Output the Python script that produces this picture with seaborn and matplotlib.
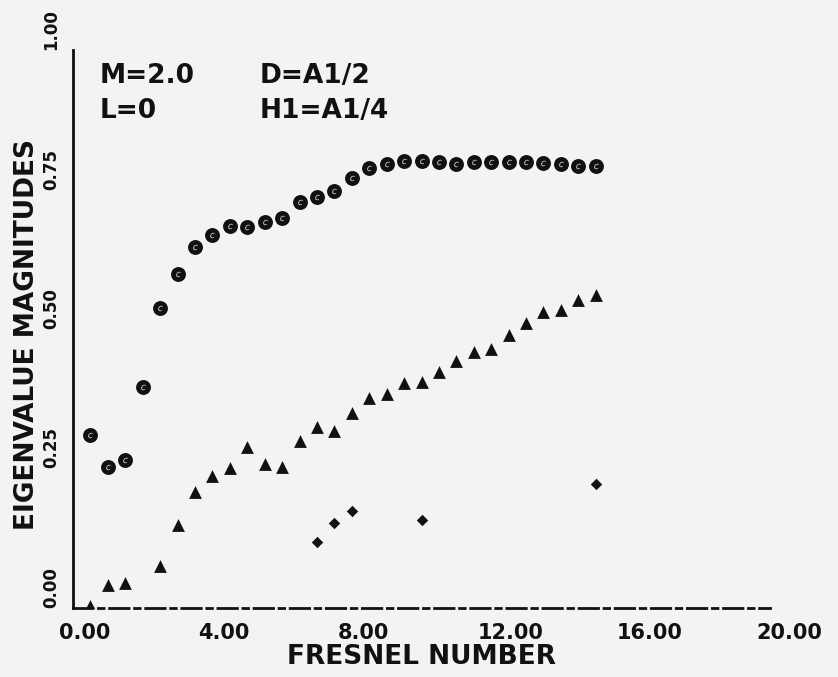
import matplotlib
matplotlib.use("Agg")
import matplotlib.pyplot as plt
import matplotlib.transforms as mtransforms
import numpy as np
import pandas as pd
import seaborn as sns

# Fresnel numbers at which the eigenvalues were computed
fresnel = [0.5, 1.0, 1.5, 2.0, 2.5, 3.0, 3.5, 4.0, 4.5, 5.0,
           5.5, 6.0, 6.5, 7.0, 7.5, 8.0, 8.5, 9.0, 9.5, 10.0,
           10.5, 11.0, 11.5, 12.0, 12.5, 13.0, 13.5, 14.0, 14.5, 15.0]

# lowest-loss mode (circles)
mode_1 = [0.310, 0.253, 0.265, 0.396, 0.538, 0.599, 0.647, 0.668, 0.685, 0.683,
          0.692, 0.699, 0.728, 0.737, 0.747, 0.771, 0.789, 0.796, 0.801, 0.801,
          0.799, 0.796, 0.799, 0.799, 0.799, 0.799, 0.797, 0.796, 0.792, 0.792]

# second mode (triangles); no value plotted at N = 2.0
mode_2 = [0.004, 0.041, 0.045, np.nan, 0.075, 0.149, 0.208, 0.237, 0.251, 0.289,
          0.258, 0.253, 0.299, 0.324, 0.317, 0.349, 0.376, 0.384, 0.403, 0.405,
          0.423, 0.443, 0.459, 0.464, 0.489, 0.511, 0.530, 0.534, 0.552, 0.561]

# third mode (diamonds), only found at a few Fresnel numbers
mode_3_fresnel = [7.0, 7.5, 8.0, 10.0, 15.0]
mode_3 = [0.118, 0.152, 0.174, 0.158, 0.222]

x_ticks = [0, 4, 8, 12, 16, 20]
x_tick_labels = ["0.00", "4.00", "8.00", "12.00", "16.00", "20.00"]
y_ticks = [0.0, 0.25, 0.50, 0.75, 1.00]
y_tick_labels = ["0.00", "0.25", "0.50", "0.75", "1.00"]

sns.set_theme(style="white")
plt.rcParams["font.family"] = ["DejaVu Sans"]

paper = "#f3f3f1"
ink = "#111111"

W, H = 838, 677
fig = plt.figure(figsize=(W / 100, H / 100), dpi=100, facecolor=paper)
ax = fig.add_axes([73 / W, 1 - 608 / H, (770 - 73) / W, (608 - 50) / H])
ax.set_facecolor(paper)

df1 = pd.DataFrame({"fresnel": fresnel, "magnitude": mode_1})
df2 = pd.DataFrame({"fresnel": fresnel, "magnitude": mode_2}).dropna()
df3 = pd.DataFrame({"fresnel": mode_3_fresnel, "magnitude": mode_3})

sns.scatterplot(data=df1, x="fresnel", y="magnitude", marker="o", s=115,
                color=ink, linewidth=0, ax=ax, zorder=3)
# pen-plotter circle symbol leaves a small light hook inside each dot
sns.scatterplot(data=df1, x="fresnel", y="magnitude", marker="$c$", s=15,
                color="#d8d8d6", linewidth=0, ax=ax, zorder=4)
sns.scatterplot(data=df2, x="fresnel", y="magnitude", marker="^", s=85,
                color=ink, linewidth=0, ax=ax, zorder=3)
sns.scatterplot(data=df3, x="fresnel", y="magnitude", marker="D", s=34,
                color=ink, linewidth=0, ax=ax, zorder=3)

ax.set_xlim(0, 20)
ax.set_ylim(0, 1)

ax.set_xticks(x_ticks)
ax.set_xticklabels(x_tick_labels, fontsize=15, fontweight="bold", ha="left")
ax.set_yticks(y_ticks)
ax.set_yticklabels(y_tick_labels, fontsize=12, fontweight="bold",
                   rotation=90, va="bottom")
ax.tick_params(axis="both", direction="out", length=6, width=2,
               color=ink, labelcolor=ink)
ax.tick_params(axis="x", pad=5)
ax.tick_params(axis="y", pad=3)

shift = mtransforms.ScaledTranslation(-14 / 100, 0, fig.dpi_scale_trans)
for lab in ax.get_xticklabels():
    lab.set_transform(lab.get_transform() + shift)

for side in ("top", "right"):
    ax.spines[side].set_visible(False)
ax.spines["left"].set_color(ink)
ax.spines["left"].set_linewidth(2)
ax.spines["bottom"].set_color(ink)
ax.spines["bottom"].set_linewidth(2)
ax.spines["bottom"].set_linestyle((0, (7, 2, 2, 2)))

ax.set_xlabel("FRESNEL NUMBER", fontsize=19, fontweight="bold", color=ink)
ax.xaxis.set_label_coords((421 - 73) / 697, (608 - 657) / 558)
ax.xaxis.label.set_va("center")
ax.set_ylabel("EIGENVALUE MAGNITUDES", fontsize=19, fontweight="bold", color=ink)
ax.yaxis.set_label_coords((27 - 73) / 697, (608 - 335) / 558)
ax.yaxis.label.set_va("center")

# run parameters in the upper-left corner
params = [("M=2.0", 100, 83), ("L=0", 100, 118),
          ("D=A1/2", 260, 83), ("H1=A1/4", 260, 118)]
for txt, px, py in params:
    fig.text(px / W, 1 - py / H, txt, fontsize=19, fontweight="bold",
             color=ink, ha="left", va="baseline")

fig.savefig("out.png", dpi=100, facecolor=paper)
